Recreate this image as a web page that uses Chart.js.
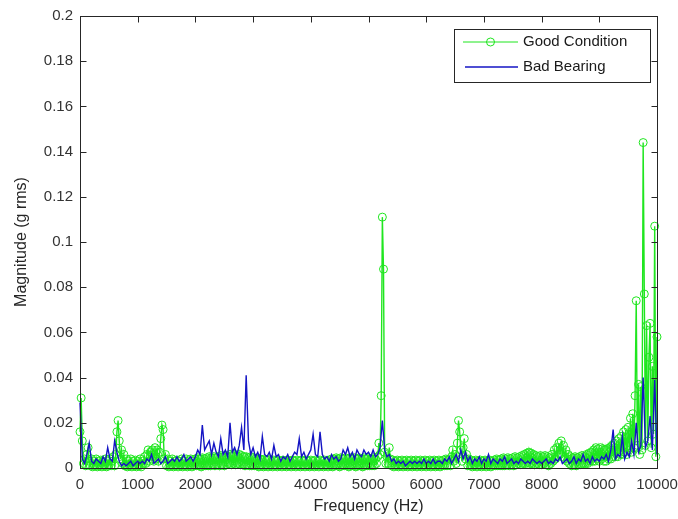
<!DOCTYPE html>
<html lang="en">
<head>
    <meta charset="UTF-8">
    <title>Spectrum</title>
    <script src="https://cdn.jsdelivr.net/npm/chart.js@4.4.1/dist/chart.umd.min.js"></script>
    <style>
        html, body { margin: 0; padding: 0; background: #fff; }
        canvas { display: block; }
    </style>
</head>
<body>
<canvas id="spectre" width="678" height="519"></canvas>
<script>

    // Bon état : spectre (g rms) tous les 20 Hz, de 0 à 10000 Hz (une ligne = 1000 Hz)
    let pasBonEtat = 20;
    let bonEtat = [
        0.016, 0.031, 0.012, 0.002, 0.004, 0.001, 0.006, 0.009, 0.003, 0.001, 0.004, 0.0005, 0.003, 0.001, 0.004, 0.0005, 0.003, 0.001, 0.0035, 0.0005, 0.003, 0.001, 0.004, 0.0005, 0.003, 0.001, 0.004, 0.001, 0.003, 0.005, 0.001, 0.006, 0.016, 0.021, 0.012, 0.004, 0.008, 0.002, 0.006, 0.001, 0.004, 0.0005, 0.003, 0.001, 0.004, 0.0005, 0.003, 0.001, 0.0035, 0.0005,
        0.003, 0.001, 0.004, 0.0005, 0.003, 0.002, 0.005, 0.002, 0.006, 0.008, 0.003, 0.007, 0.004, 0.008, 0.003, 0.009, 0.004, 0.008, 0.003, 0.007, 0.013, 0.019, 0.017, 0.004, 0.006, 0.001, 0.004, 0.0005, 0.003, 0.001, 0.004, 0.0005, 0.003, 0.001, 0.0035, 0.0005, 0.003, 0.001, 0.004, 0.0005, 0.003, 0.001, 0.004, 0.0005, 0.003, 0.001, 0.004, 0.0005, 0.003, 0.001,
        0.004, 0.001, 0.0045, 0.001, 0.004, 0.0005, 0.0045, 0.001, 0.004, 0.001, 0.0045, 0.001, 0.005, 0.001, 0.0045, 0.0015, 0.005, 0.001, 0.0045, 0.0015, 0.005, 0.001, 0.0055, 0.0015, 0.005, 0.001, 0.0055, 0.0015, 0.005, 0.002, 0.006, 0.0015, 0.0055, 0.002, 0.006, 0.0015, 0.0055, 0.002, 0.006, 0.0015, 0.0055, 0.0015, 0.005, 0.001, 0.005, 0.0015, 0.0045, 0.001, 0.005, 0.001,
        0.0045, 0.001, 0.004, 0.001, 0.0045, 0.0005, 0.004, 0.001, 0.0035, 0.0005, 0.004, 0.001, 0.0035, 0.0005, 0.004, 0.001, 0.003, 0.0005, 0.0035, 0.001, 0.003, 0.0005, 0.0035, 0.001, 0.003, 0.0005, 0.0035, 0.001, 0.003, 0.0005, 0.0035, 0.001, 0.003, 0.0005, 0.0035, 0.001, 0.003, 0.0005, 0.0035, 0.001, 0.003, 0.0005, 0.0035, 0.001, 0.003, 0.0005, 0.0035, 0.001, 0.003, 0.0005,
        0.0035, 0.001, 0.003, 0.0005, 0.0035, 0.001, 0.003, 0.0005, 0.0035, 0.001, 0.003, 0.0005, 0.0035, 0.001, 0.003, 0.0005, 0.0035, 0.001, 0.004, 0.0005, 0.004, 0.001, 0.0045, 0.001, 0.004, 0.0005, 0.0045, 0.001, 0.004, 0.001, 0.0045, 0.001, 0.004, 0.0005, 0.0045, 0.001, 0.004, 0.001, 0.0045, 0.0005, 0.004, 0.001, 0.0045, 0.001, 0.004, 0.0005, 0.0045, 0.001, 0.004, 0.001,
        0.0045, 0.001, 0.004, 0.001, 0.0045, 0.001, 0.004, 0.002, 0.005, 0.011, 0.006, 0.032, 0.111, 0.088, 0.007, 0.002, 0.005, 0.002, 0.009, 0.004, 0.001, 0.0035, 0.0005, 0.003, 0.001, 0.0035, 0.0005, 0.003, 0.001, 0.0035, 0.0005, 0.003, 0.001, 0.0035, 0.0005, 0.003, 0.001, 0.0035, 0.0005, 0.003, 0.001, 0.0035, 0.0005, 0.003, 0.001, 0.0035, 0.0005, 0.003, 0.001, 0.0035,
        0.0005, 0.003, 0.001, 0.0035, 0.0005, 0.003, 0.001, 0.0035, 0.0005, 0.003, 0.001, 0.0035, 0.0005, 0.003, 0.001, 0.0035, 0.001, 0.004, 0.001, 0.0035, 0.004, 0.001, 0.005, 0.008, 0.003, 0.006, 0.002, 0.011, 0.021, 0.016, 0.008, 0.003, 0.009, 0.013, 0.004, 0.006, 0.001, 0.004, 0.001, 0.0035, 0.0005, 0.003, 0.001, 0.0035, 0.0005, 0.003, 0.001, 0.0035, 0.0005, 0.003,
        0.001, 0.0035, 0.0005, 0.003, 0.001, 0.0035, 0.0005, 0.003, 0.001, 0.0035, 0.001, 0.004, 0.001, 0.0035, 0.001, 0.004, 0.001, 0.0045, 0.001, 0.004, 0.0015, 0.0045, 0.001, 0.004, 0.0015, 0.0045, 0.001, 0.005, 0.0015, 0.0045, 0.002, 0.005, 0.0015, 0.0055, 0.002, 0.006, 0.002, 0.0065, 0.0025, 0.007, 0.002, 0.0065, 0.002, 0.006, 0.0015, 0.0055, 0.002, 0.005, 0.0015, 0.0055,
        0.0015, 0.005, 0.002, 0.0055, 0.0015, 0.005, 0.001, 0.0045, 0.002, 0.006, 0.003, 0.008, 0.004, 0.009, 0.005, 0.011, 0.006, 0.012, 0.005, 0.010, 0.004, 0.008, 0.003, 0.006, 0.002, 0.005, 0.001, 0.0045, 0.0015, 0.005, 0.001, 0.0045, 0.0015, 0.005, 0.0015, 0.0055, 0.002, 0.005, 0.002, 0.006, 0.002, 0.0065, 0.003, 0.007, 0.003, 0.008, 0.003, 0.009, 0.004, 0.0085,
        0.003, 0.009, 0.004, 0.0085, 0.003, 0.008, 0.003, 0.0085, 0.004, 0.009, 0.004, 0.010, 0.005, 0.011, 0.005, 0.012, 0.005, 0.013, 0.006, 0.014, 0.006, 0.016, 0.007, 0.017, 0.006, 0.018, 0.008, 0.022, 0.007, 0.024, 0.009, 0.032, 0.074, 0.010, 0.037, 0.006, 0.036, 0.008, 0.144, 0.077, 0.010, 0.063, 0.012, 0.049, 0.064, 0.009, 0.045, 0.015, 0.107, 0.005,
        0.058
    ];

    // Mauvais roulement : spectre (g rms) tous les 40 Hz (une ligne = 1000 Hz)
    let pasMauvais = 40;
    let mauvaisRoulement = [
        0.029, 0.004, 0.002, 0.006, 0.011, 0.003, 0.002, 0.004, 0.003, 0.002, 0.005, 0.003, 0.009, 0.004, 0.003, 0.012, 0.007, 0.003, 0.001, 0.002, 0.001, 0.002, 0.003, 0.001, 0.002,
        0.003, 0.002, 0.003, 0.002, 0.004, 0.003, 0.006, 0.002, 0.003, 0.004, 0.002, 0.003, 0.005, 0.002, 0.003, 0.004, 0.003, 0.005, 0.003, 0.004, 0.006, 0.003, 0.004, 0.005, 0.003,
        0.005, 0.008, 0.006, 0.019, 0.008, 0.010, 0.012, 0.006, 0.011, 0.007, 0.005, 0.013, 0.006, 0.008, 0.005, 0.020, 0.007, 0.009, 0.006, 0.010, 0.018, 0.008, 0.041, 0.012, 0.006,
        0.009, 0.005, 0.007, 0.004, 0.014, 0.006, 0.005, 0.007, 0.004, 0.010, 0.005, 0.006, 0.003, 0.005, 0.004, 0.006, 0.003, 0.005, 0.007, 0.006, 0.013, 0.005, 0.007, 0.004, 0.006,
        0.008, 0.015, 0.006, 0.005, 0.016, 0.006, 0.004, 0.005, 0.003, 0.006, 0.004, 0.005, 0.003, 0.004, 0.008, 0.006, 0.009, 0.005, 0.007, 0.004, 0.008, 0.006, 0.005, 0.008, 0.006,
        0.007, 0.005, 0.008, 0.005, 0.006, 0.009, 0.021, 0.008, 0.005, 0.006, 0.003, 0.004, 0.002, 0.003, 0.002, 0.003, 0.001, 0.002, 0.003, 0.002, 0.003, 0.002, 0.003, 0.002, 0.004,
        0.002, 0.003, 0.002, 0.004, 0.002, 0.003, 0.003, 0.002, 0.004, 0.003, 0.005, 0.002, 0.004, 0.006, 0.003, 0.008, 0.004, 0.007, 0.003, 0.005, 0.002, 0.004, 0.003, 0.005, 0.002,
        0.004, 0.003, 0.006, 0.002, 0.004, 0.003, 0.002, 0.004, 0.003, 0.005, 0.002, 0.003, 0.004, 0.002, 0.003, 0.002, 0.004, 0.003, 0.002, 0.003, 0.002, 0.004, 0.003, 0.002, 0.003,
        0.002, 0.003, 0.004, 0.002, 0.003, 0.002, 0.004, 0.003, 0.005, 0.002, 0.003, 0.004, 0.002, 0.003, 0.005, 0.002, 0.004, 0.003, 0.006, 0.003, 0.004, 0.002, 0.005, 0.003, 0.004,
        0.003, 0.005, 0.004, 0.006, 0.003, 0.008, 0.017, 0.004, 0.006, 0.005, 0.014, 0.004, 0.007, 0.005, 0.012, 0.006, 0.020, 0.007, 0.010, 0.040, 0.009, 0.012, 0.023, 0.008, 0.039,
        0.006
    ];

    let etiquettesX = ['0', '1000', '2000', '3000', '4000', '5000', '6000', '7000', '8000', '9000', '10000'];
    let etiquettesY = ['0', '0.02', '0.04', '0.06', '0.08', '0.1', '0.12', '0.14', '0.16', '0.18', '0.2'];

    let nomsSeries = ['Good Condition', 'Bad Bearing'];
    let titreX = 'Frequency (Hz)';
    let titreY = 'Magnitude (g rms)';

    let vert = '#1fe61f';
    let bleu = '#1414c4';
    let police = '"Liberation Sans", Arial, sans-serif';

    let versPoints = (valeurs, pas) => valeurs.map((v, i) => ({ x: i * pas, y: v }));

    // Cadre, graduations intérieures, titres d'axes et légende façon Matlab
    let habillage = {
        id: 'habillage',
        afterDatasetsDraw(chart) {
            let ctx = chart.ctx;
            let zone = chart.chartArea;
            let sx = chart.scales.x;
            let sy = chart.scales.y;
            let l = Math.round(zone.left) + 0.5;
            let r = Math.round(zone.right) + 0.5;
            let t = Math.round(zone.top) + 0.5;
            let b = Math.round(zone.bottom) + 0.5;

            ctx.save();
            ctx.strokeStyle = '#262626';
            ctx.lineWidth = 1;
            ctx.strokeRect(l, t, r - l, b - t);

            ctx.beginPath();
            sx.ticks.forEach(tick => {
                let px = Math.round(sx.getPixelForValue(tick.value)) + 0.5;
                ctx.moveTo(px, b); ctx.lineTo(px, b - 6);
                ctx.moveTo(px, t); ctx.lineTo(px, t + 6);
            });
            sy.ticks.forEach(tick => {
                let py = Math.round(sy.getPixelForValue(tick.value)) + 0.5;
                ctx.moveTo(l, py); ctx.lineTo(l + 6, py);
                ctx.moveTo(r, py); ctx.lineTo(r - 6, py);
            });
            ctx.stroke();
            ctx.restore();
        },
        afterDraw(chart) {
            let ctx = chart.ctx;
            let zone = chart.chartArea;

            ctx.save();
            ctx.fillStyle = '#262626';
            ctx.font = '16px ' + police;
            ctx.textAlign = 'center';
            ctx.textBaseline = 'middle';
            ctx.fillText(titreX, (zone.left + zone.right) / 2, 507);

            ctx.translate(22, (zone.top + zone.bottom) / 2);
            ctx.rotate(-Math.PI / 2);
            ctx.fillText(titreY, 0, 0);
            ctx.restore();

            // Légende
            let lx = 454, ly = 29, lw = 196, lh = 53;
            ctx.save();
            ctx.fillStyle = '#fff';
            ctx.fillRect(lx, ly, lw, lh);
            ctx.strokeStyle = '#262626';
            ctx.lineWidth = 1;
            ctx.strokeRect(lx + 0.5, ly + 0.5, lw, lh);

            let lignes = [ly + 13, ly + 38];
            ctx.lineWidth = 1;
            ctx.strokeStyle = vert;
            ctx.beginPath();
            ctx.moveTo(463, lignes[0]); ctx.lineTo(518, lignes[0]);
            ctx.stroke();
            ctx.beginPath();
            ctx.arc(490.5, lignes[0], 4, 0, Math.PI * 2);
            ctx.stroke();

            ctx.strokeStyle = bleu;
            ctx.lineWidth = 1.3;
            ctx.beginPath();
            ctx.moveTo(465, lignes[1]); ctx.lineTo(518, lignes[1]);
            ctx.stroke();

            ctx.fillStyle = '#1a1a1a';
            ctx.font = '15px ' + police;
            ctx.textAlign = 'left';
            ctx.textBaseline = 'middle';
            ctx.fillText(nomsSeries[0], 523, lignes[0]);
            ctx.fillText(nomsSeries[1], 523, lignes[1]);
            ctx.restore();
        }
    };

    let ctx = document.getElementById('spectre').getContext('2d');
    let chart = new Chart(ctx, {
        type: 'line',
        data: {
            datasets: [
                {
                    label: nomsSeries[0],
                    data: versPoints(bonEtat, pasBonEtat),
                    borderColor: vert,
                    borderWidth: 1.4,
                    pointStyle: 'circle',
                    pointRadius: 4,
                    pointBorderWidth: 1,
                    pointBorderColor: vert,
                    pointBackgroundColor: 'rgba(0,0,0,0)',
                    tension: 0,
                    clip: false,
                    order: 1
                },
                {
                    label: nomsSeries[1],
                    data: versPoints(mauvaisRoulement, pasMauvais),
                    borderColor: bleu,
                    borderWidth: 1.4,
                    pointRadius: 0,
                    tension: 0,
                    clip: false,
                    order: 0
                }
            ]
        },
        options: {
            responsive: false,
            animation: false,
            devicePixelRatio: 1,
            layout: { padding: { top: 16, right: 21, left: 0, bottom: 0 } },
            plugins: {
                legend: { display: false },
                tooltip: { enabled: false }
            },
            scales: {
                x: {
                    type: 'linear',
                    min: 0,
                    max: 10000,
                    border: { display: false },
                    grid: { drawOnChartArea: false, drawTicks: false },
                    ticks: {
                        stepSize: 1000,
                        maxRotation: 0,
                        padding: 8,
                        color: '#333',
                        font: { family: police, size: 15 },
                        callback: (v, i) => etiquettesX[i]
                    },
                    afterFit: (scale) => {
                        scale.height = 51;
                        scale.paddingLeft = 0;
                        scale.paddingRight = 0;
                    }
                },
                y: {
                    min: 0,
                    max: 0.2,
                    border: { display: false },
                    grid: { drawOnChartArea: false, drawTicks: false },
                    ticks: {
                        stepSize: 0.02,
                        padding: 7,
                        color: '#333',
                        font: { family: police, size: 15 },
                        callback: (v, i) => etiquettesY[i]
                    },
                    afterFit: (scale) => {
                        scale.width = 80;
                        scale.paddingTop = 0;
                        scale.paddingBottom = 0;
                    }
                }
            }
        },
        plugins: [habillage]
    });

</script>
</body>
</html>
